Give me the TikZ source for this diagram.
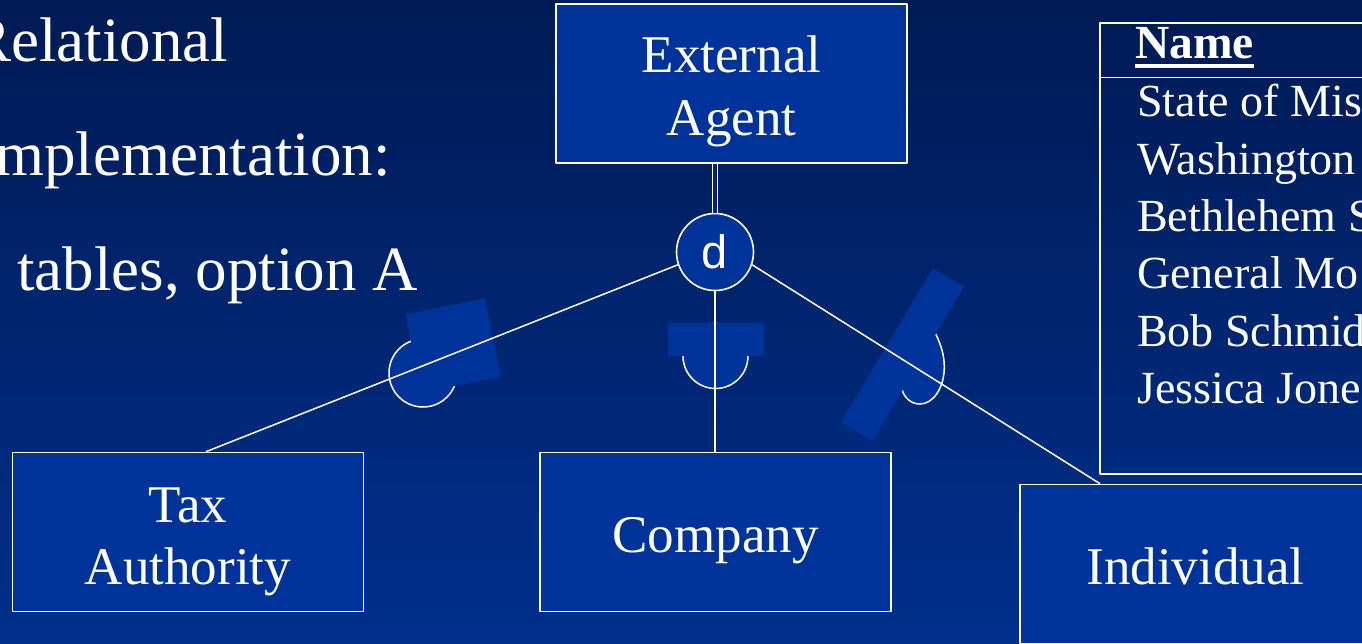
\documentclass[tikz,border=0pt]{standalone}
\usepackage{fontspec}
\setmainfont{Liberation Serif}
\newfontfamily\dfont{Liberation Sans}
\definecolor{boxblue}{RGB}{0,51,153}
\definecolor{bgtop}{RGB}{0,26,84}
\definecolor{bgbot}{RGB}{0,48,140}
\definecolor{bgmid}{RGB}{0,35,106}

\begin{document}
\begin{tikzpicture}[x=1pt,y=-1pt,line join=round,
    box/.style={draw=white,line width=1.6pt,fill=boxblue,minimum width=351pt,minimum height=159pt,inner sep=0pt},
    lbl/.style={white,align=center,inner sep=0pt,font=\fontsize{53}{62.5}\selectfont},
    big/.style={white,anchor=base west,inner sep=0pt,font=\fontsize{63}{63}\selectfont},
    row/.style={white,anchor=base west,inner sep=0pt,font=\fontsize{46}{46}\selectfont},
    link/.style={white,line width=1.5pt},
    cup/.style={draw=white,fill=boxblue,line width=1.5pt},
    mask/.style={fill=boxblue}]
    \useasboundingbox (0,0) rectangle (1362,643);
    \shade[top color=bgtop,bottom color=bgbot] (0,0) rectangle (1362,643);
    % left text
    \node[big] (l1) at (-31,61) {Relational};
    \node[big] (l2) at (-5,175) {mplementation:};
    \node[big] (l3) at (17,290) {tables, option A};
    % subset marks
    \filldraw[cup] (423,373) circle[radius=34];
    \fill[mask] (405.7,314.3) -- (485,298.3) -- (500.7,376.7) -- (421.4,392.7) -- cycle;
    \filldraw[cup] (715.5,356) circle[radius=32.5];
    \fill[mask] (668,323) rectangle (764,356);
    \filldraw[cup] (935.7,334) .. controls (941,345) and (944.3,355) .. (944.3,367) .. controls (944.3,387.4) and (933.5,404) .. (920,404) .. controls (911,404) and (905,398) .. (902.3,390.7) .. controls (885,381) and (919,324) .. cycle;
    \fill[mask] (932.7,268.3) -- (964,286.7) -- (872.3,440.7) -- (841,422.3) -- cycle;
    % entities
    \node[box] (ext) at (731.5,83.5) {};
    \node[box] (tax) at (188,532) {};
    \node[box] (comp) at (715.5,532) {};
    \node[box] (ind) at (1195.5,564) {};
    \node[lbl,yshift=-8pt] (extl) at (ext) {External\\Agent};
    \node[lbl,yshift=-10pt] (taxl) at (tax) {Tax\\Authority};
    \node[lbl,yshift=-9pt] (compl) at (comp) {Company};
    \node[lbl,yshift=-2pt] (indl) at (ind) {Individual};
    \node[circle,draw=white,fill=boxblue,line width=1.6pt,minimum size=77pt,inner sep=0pt,text=white,font=\dfont\fontsize{47}{47}\selectfont] (d) at (715,252) {d};
    % links
    \coordinate (tabsw) at (1100,474);
    \draw[link,double=bgmid,double distance=3.5pt,line width=1.4pt] (d.north) -- (d.north |- ext.south);
    \draw[link] (d.199) -- ([xshift=18pt]tax.north);
    \draw[link] (d.south) -- (d.south |- comp.north);
    \draw[link] (d.-19) -- (tabsw |- ind.north);
    % table
    \draw[white,line width=1.6pt] (1380,474) -- (tabsw) |- (1380,23);
    \draw[white,line width=1.6pt] (1100,77.5) -- (1380,77.5);
    \node[row,font=\bfseries\fontsize{47.5}{47.5}\selectfont] (hd) at (1135,58.5) {Name};
    \draw[white,line width=4.5pt] ([yshift=-7.5pt]hd.base west) -- ([yshift=-7.5pt]hd.base east);
    \node[row] (r1) at (1137,116.7) {State of Mis};
    \node[row] (r2) at (1137,174.1) {Washington};
    \node[row] (r3) at (1137,231.5) {Bethlehem S};
    \node[row] (r4) at (1137,288.9) {General Mo};
    \node[row] (r5) at (1137,346.3) {Bob Schmid};
    \node[row] (r6) at (1137,403.7) {Jessica Jone};
\end{tikzpicture}
\end{document}
